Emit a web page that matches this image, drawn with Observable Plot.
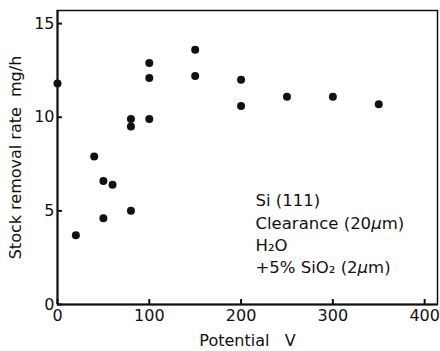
<!DOCTYPE html>
<html>
<head>
<meta charset="utf-8">
<script src="https://cdn.jsdelivr.net/npm/d3@7"></script>
<script src="https://cdn.jsdelivr.net/npm/@observablehq/plot@0.6"></script>
<style>
  html, body { margin: 0; padding: 0; background: #fff; }
  svg { display: block; }
</style>
</head>
<body>
<div id="chart"></div>
<script>
const potential = [0, 20, 40, 50, 50, 60, 80, 80, 80, 100, 100, 100, 150, 150, 200, 200, 250, 300, 350];
const rate = [11.8, 3.7, 7.9, 6.6, 4.6, 6.4, 9.9, 9.5, 5.0, 12.9, 12.1, 9.9, 13.6, 12.2, 12.0, 10.6, 11.1, 11.1, 10.7];
const xTicks = [0, 100, 200, 300, 400];
const yTicks = [0, 5, 10, 15];
const annotation = ["Si (111)", "Clearance (20μm)", "H₂O", "+5% SiO₂ (2μm)"];

const data = potential.map((p, i) => ({potential: p, rate: rate[i]}));
const font = "DejaVu Sans, sans-serif";

const chart = Plot.plot({
  width: 440,
  height: 351,
  marginLeft: 57,
  marginRight: 3,
  marginTop: 10,
  marginBottom: 47,
  style: {fontFamily: font, fontSize: "17px", color: "#111", background: "#fff"},
  x: {domain: [0, 414]},
  y: {domain: [0, 15.7]},
  marks: [
    Plot.frame({stroke: "#111", strokeWidth: 1.5}),
    Plot.axisX({ticks: xTicks, tickSize: -5, strokeWidth: 2, text: null, label: null}),
    Plot.axisX({ticks: xTicks, tickSize: 0, tickPadding: 5, fontSize: 16,
      label: "Potential   V", labelAnchor: "center", labelArrow: "none", labelOffset: 41}),
    Plot.axisY({ticks: yTicks, tickSize: -5, strokeWidth: 2, text: null, label: null}),
    Plot.axisY({ticks: yTicks, tickSize: 0, tickPadding: 3, fontSize: 16,
      label: "Stock removal rate  mg/h", labelAnchor: "center", labelArrow: "none", labelOffset: 48}),
    Plot.ruleX([0], {stroke: "#111", strokeWidth: 2}),
    Plot.ruleY([0], {stroke: "#111", strokeWidth: 2}),
    Plot.dot(data, {x: "potential", y: "rate", r: 4, fill: "#111", stroke: "none"}),
    Plot.text([annotation.join("\n")], {
      frameAnchor: "top-left", dx: 198, dy: 180, textAnchor: "start", lineAnchor: "top",
      lineHeight: 1.35, fontSize: 16.5, fill: "#111", className: "note"
    })
  ]
});
document.getElementById("chart").appendChild(chart);

// italic mu, as in the reference
chart.querySelectorAll(".note tspan").forEach(ts => {
  const t = ts.textContent;
  if (!t.includes("μ")) return;
  ts.textContent = "";
  t.split(/(μ)/).forEach(part => {
    if (!part) return;
    const s = document.createElementNS("http://www.w3.org/2000/svg", "tspan");
    s.textContent = part;
    if (part === "μ") s.setAttribute("font-style", "italic");
    ts.appendChild(s);
  });
});
</script>
</body>
</html>
